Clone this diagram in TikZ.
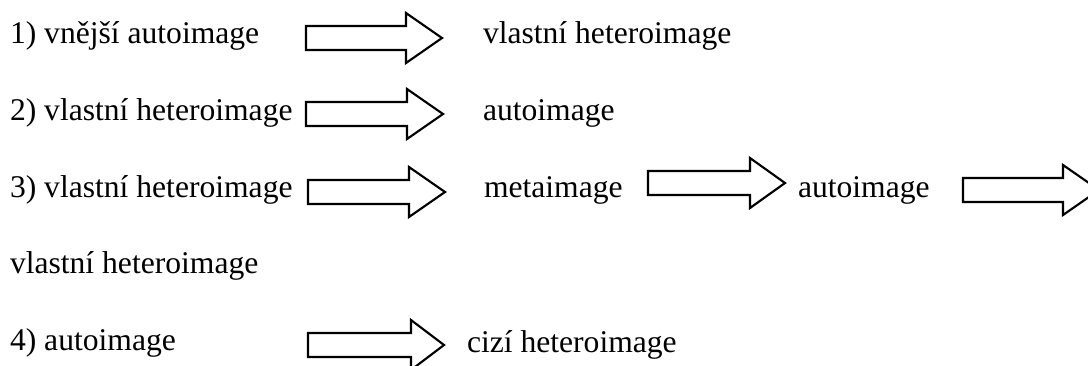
\documentclass[tikz,border=0pt]{standalone}
\usepackage{fontspec}
\setmainfont{Liberation Serif}
\begin{document}
\begin{tikzpicture}[x=0.75pt,y=-0.75pt,
  lbl/.style={anchor=base west,inner sep=0pt,outer sep=0pt,font=\fontsize{23.7pt}{28pt}\selectfont},
  arrowline/.style={draw=black,line width=1.6pt,fill=white,line join=miter}]
\useasboundingbox (0,0) rectangle (1088,365);
\clip (0,0) rectangle (1088,365);
\newcommand{\blockarr}[4]{%
  \draw[arrowline] (#1,{#4-12}) -- (#2,{#4-12}) -- (#2,{#4-25}) -- (#3,#4) -- (#2,{#4+25}) -- (#2,{#4+12}) -- (#1,{#4+12}) -- cycle;}
% row 1
\node[lbl] (r1a) at (10,43) {1) vnější autoimage};
\node[lbl] (r1b) at (483,43) {vlastní heteroimage};
\blockarr{306}{406}{442}{38}
% row 2
\node[lbl] (r2a) at (10,120) {2) vlastní heteroimage};
\node[lbl] (r2b) at (483,120) {autoimage};
\blockarr{306}{407}{443}{114}
% row 3
\node[lbl] (r3a) at (10,197) {3) vlastní heteroimage};
\node[lbl] (r3b) at (484,197) {metaimage};
\node[lbl] (r3c) at (798,197) {autoimage};
\blockarr{308}{409}{445}{192}
\blockarr{648}{750}{785}{183}
\blockarr{963}{1063}{1099}{190}
% row 3 continued
\node[lbl] (r3d) at (10,273) {vlastní heteroimage};
% row 4
\node[lbl] (r4a) at (10,350) {4) autoimage};
\node[lbl] (r4b) at (467,352) {cizí heteroimage};
\blockarr{308}{411}{444}{345}
\end{tikzpicture}
\end{document}
